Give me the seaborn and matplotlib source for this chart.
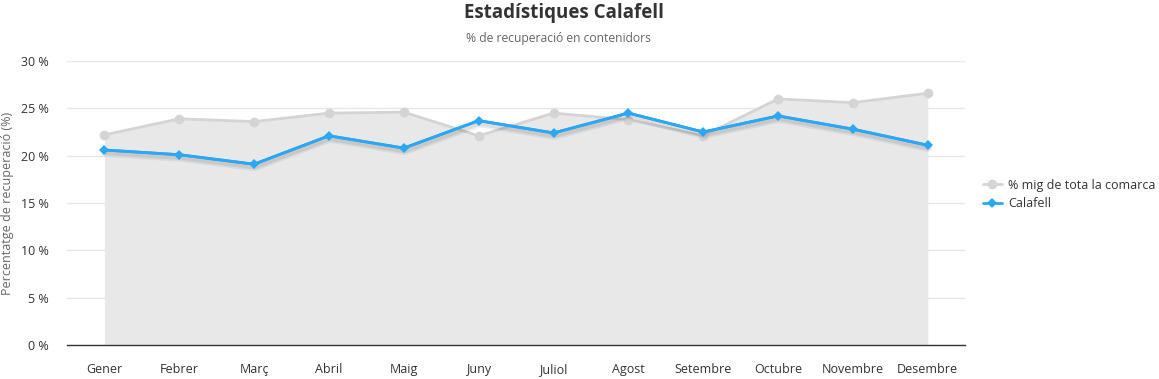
import numpy as np
import pandas as pd
import matplotlib
matplotlib.use("Agg")
import matplotlib.pyplot as plt
import matplotlib.patheffects as pe
import seaborn as sns

months = ['Gener', 'Febrer', 'Març', 'Abril', 'Maig', 'Juny', 'Juliol',
          'Agost', 'Setembre', 'Octubre', 'Novembre', 'Desembre']
comarca = [22.2, 23.9, 23.6, 24.5, 24.6, 22.1, 24.5, 23.8, 22.1, 26.0, 25.6, 26.6]
calafell = [20.6, 20.1, 19.1, 22.1, 20.8, 23.7, 22.4, 24.5, 22.5, 24.2, 22.8, 21.1]
yticks = [0, 5, 10, 15, 20, 25, 30]

df = pd.DataFrame({'x': np.arange(len(months)), 'mes': months,
                   'comarca': comarca, 'calafell': calafell})

sns.set_style('white')
plt.rcParams['font.family'] = ['Open Sans', 'DejaVu Sans']

fig = plt.figure(figsize=(11.59, 3.79), dpi=100)
ax = fig.add_axes([0.0578, 0.0897, 0.775, 0.7493])

gray = '#d4d4d4'
blue = '#2aa7f5'

ax.fill_between(df['x'], 0, df['comarca'], color='#e8e8e8', lw=0, zorder=1)
sns.lineplot(data=df, x='x', y='comarca', ax=ax, color=gray, lw=2,
             marker='o', markersize=7, markeredgewidth=0, zorder=3,
             label='% mig de tota la comarca')
# soft shadow under the Calafell line
sns.lineplot(data=df, x='x', y='calafell', ax=ax, color=blue, lw=2, zorder=3.5,
             legend=False,
             path_effects=[pe.SimpleLineShadow(offset=(0.5, -2), shadow_color='#000000', alpha=0.06, linewidth=6),
                           pe.SimpleLineShadow(offset=(0.5, -2), shadow_color='#000000', alpha=0.08, linewidth=3.5),
                           pe.Normal()])
sns.lineplot(data=df, x='x', y='calafell', ax=ax, color=blue, lw=2,
             marker='D', markersize=5.5, markeredgewidth=0, zorder=4,
             label='Calafell')

ax.set_xlim(-0.5, len(months) - 0.5)
ax.set_ylim(0, 30)
ax.set_xticks(df['x'])
ax.set_xticklabels(months)
ax.set_yticks(yticks)
ax.set_yticklabels([f'{v} %' for v in yticks])
ax.tick_params(axis='both', length=0, labelsize=9, colors='#333333')
ax.tick_params(axis='x', pad=13)
ax.tick_params(axis='y', pad=13)
ax.grid(True, axis='y', color='#e6e6e6', lw=1, zorder=0)
ax.set_axisbelow(True)
for s in ['top', 'right', 'left']:
    ax.spines[s].set_visible(False)
ax.spines['bottom'].set_color('#333333')
ax.spines['bottom'].set_linewidth(1)
ax.set_xlabel('')
ax.set_ylabel('Percentatge de recuperació (%)', fontsize=9, color='#666666', labelpad=5)

ax.legend(loc='center left', bbox_to_anchor=(1.007, 0.53), frameon=False,
          fontsize=9, labelcolor='#333333', handlelength=1.5, handletextpad=0.5,
          labelspacing=0.45)

fig.text(0.487, 0.965, 'Estadístiques Calafell', ha='center', va='center',
         fontsize=13.5, fontweight='bold', color='#333333')
fig.text(0.482, 0.898, '% de recuperació en contenidors', ha='center', va='center',
         fontsize=8.7, color='#666666')

fig.savefig('out.png', dpi=100)
